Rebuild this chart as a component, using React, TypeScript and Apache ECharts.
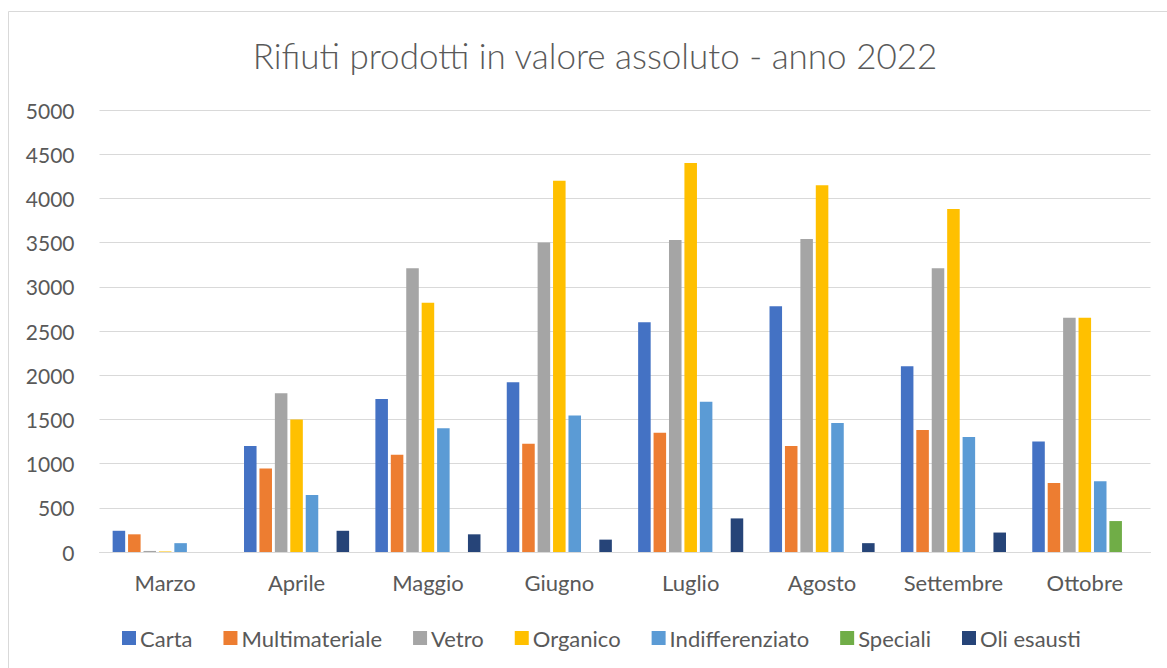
import React, { useEffect, useRef } from "react";
import * as echarts from "echarts";

const categories = ["Marzo", "Aprile", "Maggio", "Giugno", "Luglio", "Agosto", "Settembre", "Ottobre"];
const carta = [240, 1200, 1730, 1920, 2600, 2780, 2100, 1250];
const multimateriale = [200, 945, 1100, 1225, 1350, 1200, 1380, 780];
const vetro = [12, 1795, 3210, 3500, 3530, 3540, 3210, 2650];
const organico = [6, 1500, 2820, 4200, 4400, 4150, 3880, 2650];
const indifferenziato = [100, 645, 1400, 1545, 1700, 1460, 1300, 800];
const speciali = [0, 0, 0, 0, 0, 0, 0, 350];
const oliEsausti = [0, 240, 200, 140, 380, 100, 220, 0];
const yTicks = [0, 500, 1000, 1500, 2000, 2500, 3000, 3500, 4000, 4500, 5000];

const seriesDefs = [
  { name: "Carta", data: carta, color: "#4472C4" },
  { name: "Multimateriale", data: multimateriale, color: "#ED7D31" },
  { name: "Vetro", data: vetro, color: "#A5A5A5" },
  { name: "Organico", data: organico, color: "#FFC000" },
  { name: "Indifferenziato", data: indifferenziato, color: "#5B9BD5" },
  { name: "Speciali", data: speciali, color: "#70AD47" },
  { name: "Oli esausti", data: oliEsausti, color: "#264478" },
];

const FONT = "Lato";

export default function App() {
  const ref = useRef<HTMLDivElement>(null);
  useEffect(() => {
    if (!ref.current) return;
    const chart = echarts.init(ref.current, undefined, { renderer: "svg" });
    chart.setOption({
      animation: false,
      backgroundColor: "#ffffff",
      title: {
        text: "Rifiuti prodotti in valore assoluto - anno 2022",
        left: 590,
        textAlign: "center",
        top: 32,
        textStyle: { fontFamily: FONT, fontSize: 35, fontWeight: 300, color: "#595959" },
      },
      graphic: [
        {
          type: "rect",
          shape: { x: 8.5, y: 11.5, width: 1180, height: 700 },
          style: { fill: "none", stroke: "#d9d9d9", lineWidth: 1 },
          silent: true,
        },
      ],
      legend: {
        left: 117,
        top: 622,
        itemWidth: 14,
        itemHeight: 14,
        itemGap: 31,
        icon: "rect",
        textStyle: { fontFamily: FONT, fontSize: 22, color: "#595959", padding: [0, 0, 0, -1] },
        data: seriesDefs.map((s) => s.name),
      },
      grid: { left: 99.5, right: 16.5, top: 110, bottom: 116 },
      xAxis: {
        type: "category",
        data: categories,
        axisTick: { show: false },
        axisLine: { lineStyle: { color: "#d9d9d9", width: 1 } },
        axisLabel: { fontFamily: FONT, fontSize: 22, color: "#595959", margin: 19 },
      },
      yAxis: {
        type: "value",
        min: yTicks[0],
        max: yTicks[yTicks.length - 1],
        interval: 500,
        axisLine: { show: false },
        axisTick: { show: false },
        splitLine: { lineStyle: { color: "#d9d9d9", width: 1 } },
        axisLabel: {
          fontFamily: FONT,
          fontSize: 21,
          color: "#595959",
          margin: 25,
          formatter: (v: number) => String(v),
        },
      },
      series: seriesDefs.map((s) => ({
        name: s.name,
        type: "bar",
        data: s.data,
        barCategoryGap: "20%",
        barGap: "23%",
        itemStyle: { color: s.color },
      })),
    });
    return () => chart.dispose();
  }, []);
  return (
    <div
      ref={ref}
      style={{ position: "fixed", left: 0, top: 0, width: 1167, height: 668, background: "#fff" }}
    />
  );
}
